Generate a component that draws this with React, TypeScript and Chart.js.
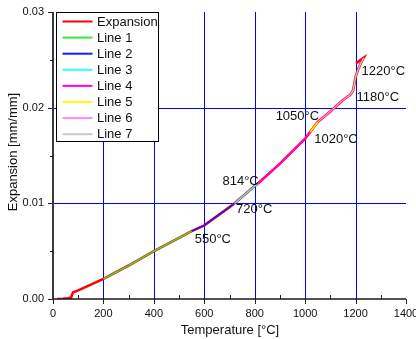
import React, { useEffect, useRef } from "react";
import { Chart, registerables } from "chart.js";

Chart.register(...registerables);

// ---- data ----
const expansionTemps = [16, 40, 60, 72, 76, 80, 100, 150, 200, 300, 400, 500, 550, 600, 700, 720, 800, 814, 900, 1000, 1020, 1050, 1100, 1150, 1180, 1190, 1200, 1210, 1220, 1232, 1202];
const expansionValues = [0, 0.00002, 0.00008, 0.00015, 0.0005, 0.0007, 0.0009, 0.0015, 0.0021, 0.0035, 0.005, 0.0064, 0.0071, 0.0077, 0.0096, 0.01, 0.0118, 0.0121, 0.01415, 0.01677, 0.01746, 0.0185, 0.0196, 0.0208, 0.02136, 0.0218, 0.0232, 0.024, 0.0246, 0.0252, 0.02465];

const line1Temps = [200, 300, 400, 500, 550];
const line1Values = [0.0021, 0.0035, 0.005, 0.0064, 0.0071];
const line2Temps = [550, 600, 700, 720];
const line2Values = [0.0071, 0.0077, 0.0096, 0.01];
const line3Temps = [720, 800, 814];
const line3Values = [0.01, 0.0118, 0.0121];
const line4Temps = [814, 900, 1000, 1020];
const line4Values = [0.0121, 0.01415, 0.01677, 0.01746];
const line5Temps = [1020, 1050];
const line5Values = [0.01746, 0.0185];
const line6Temps = [1050, 1100, 1150, 1180];
const line6Values = [0.0185, 0.0196, 0.0208, 0.02136];
const line7Temps = [1180, 1190, 1200, 1210, 1220, 1232];
const line7Values = [0.02136, 0.0218, 0.0232, 0.024, 0.0246, 0.0252];

const seriesLabels = ["Expansion", "Line 1", "Line 2", "Line 3", "Line 4", "Line 5", "Line 6", "Line 7"];
const seriesColors = ["#ff0000", "#33ee33", "#1a1aff", "#33ffff", "#ff00ff", "#ffff00", "#ff88ff", "#c8c8c8"];

const annotationTemps = [562, 726, 672, 883, 1036, 1204, 1224];
const annotationValues = [0.00624, 0.00938, 0.01233, 0.01913, 0.01669, 0.02105, 0.02383];
const annotationLabels = ["550°C", "720°C", "814°C", "1050°C", "1020°C", "1180°C", "1220°C"];

const xMin = 0, xMax = 1400, xStep = 100, xMajor = 200;
const yMin = 0, yMax = 0.03, yStep = 0.005, yMajor = 0.01;
const xTitle = "Temperature [°C]";
const yTitle = "Expansion [mm/mm]";

const FONT = "'Liberation Sans', Arial, sans-serif";

function pts(t: number[], v: number[]) {
  return t.map((x, i) => ({ x, y: v[i] }));
}

function isMajor(v: number, step: number) {
  const r = v / step;
  return Math.abs(r - Math.round(r)) < 1e-6;
}

const decorPlugin = {
  id: "decor",
  beforeDatasetsDraw(chart: any) {
    const ctx = chart.ctx as CanvasRenderingContext2D;
    const ca = chart.chartArea;
    const xs = chart.scales.x;
    const ys = chart.scales.y;
    ctx.save();
    ctx.strokeStyle = "#0000ff";
    ctx.lineWidth = 1;
    ctx.beginPath();
    for (const t of xs.ticks) {
      if (!isMajor(t.value, xMajor) || t.value <= xMin || t.value >= xMax) continue;
      const px = Math.round(xs.getPixelForValue(t.value)) + 0.5;
      ctx.moveTo(px, ca.top);
      ctx.lineTo(px, ca.bottom);
    }
    for (const t of ys.ticks) {
      if (!isMajor(t.value, yMajor) || t.value <= yMin + 1e-9 || t.value >= yMax - 1e-9) continue;
      const py = Math.round(ys.getPixelForValue(t.value)) + 0.5;
      ctx.moveTo(ca.left, py);
      ctx.lineTo(ca.right, py);
    }
    ctx.stroke();
    ctx.restore();
  },
  afterDatasetsDraw(chart: any) {
    const ctx = chart.ctx as CanvasRenderingContext2D;
    const ca = chart.chartArea;
    const xs = chart.scales.x;
    const ys = chart.scales.y;
    ctx.save();
    // axis lines
    ctx.strokeStyle = "#3a3a3a";
    ctx.lineWidth = 2;
    ctx.beginPath();
    ctx.moveTo(ca.left, ca.top);
    ctx.lineTo(ca.left, ca.bottom);
    ctx.stroke();
    ctx.strokeStyle = "#1a1a1a";
    ctx.lineWidth = 1.5;
    ctx.beginPath();
    ctx.moveTo(ca.left, ca.bottom);
    ctx.lineTo(ca.right, ca.bottom);
    ctx.stroke();
    // tick marks
    ctx.lineWidth = 1;
    ctx.strokeStyle = "#222";
    ctx.beginPath();
    for (const t of xs.ticks) {
      const px = Math.round(xs.getPixelForValue(t.value)) + 0.5;
      if (isMajor(t.value, xMajor)) {
        ctx.moveTo(px, ca.bottom);
        ctx.lineTo(px, ca.bottom + 5);
      } else {
        ctx.moveTo(px, ca.bottom);
        ctx.lineTo(px, ca.bottom - 4);
      }
    }
    for (const t of ys.ticks) {
      const py = Math.round(ys.getPixelForValue(t.value)) + 0.5;
      const len = isMajor(t.value, yMajor) ? 5 : 3;
      ctx.moveTo(ca.left - len, py);
      ctx.lineTo(ca.left, py);
    }
    ctx.stroke();

    // annotations
    ctx.fillStyle = "#111";
    ctx.font = `13px ${FONT}`;
    ctx.textAlign = "left";
    ctx.textBaseline = "middle";
    annotationLabels.forEach((lab, i) => {
      ctx.fillText(lab, xs.getPixelForValue(annotationTemps[i]), ys.getPixelForValue(annotationValues[i]));
    });

    // axis titles
    ctx.fillStyle = "#111";
    ctx.textAlign = "center";
    ctx.textBaseline = "middle";
    ctx.font = `13px ${FONT}`;
    ctx.fillText(xTitle, 230, 330);
    ctx.save();
    ctx.translate(13, 152);
    ctx.rotate(-Math.PI / 2);
    ctx.fillText(yTitle, 0, 0);
    ctx.restore();

    // legend
    const lx = ca.left + 3.5, ly = ca.top + 0.5, lw = 102, lh = 129;
    ctx.fillStyle = "#fff";
    ctx.fillRect(lx, ly, lw, lh);
    ctx.strokeStyle = "#000";
    ctx.lineWidth = 1;
    ctx.strokeRect(lx, ly, lw, lh);
    ctx.font = `13px ${FONT}`;
    ctx.textAlign = "left";
    ctx.textBaseline = "middle";
    chart.data.datasets.forEach((ds: any, i: number) => {
      const cy = ly + 9 + i * 16.1;
      ctx.strokeStyle = ds.borderColor;
      ctx.lineWidth = 2;
      ctx.beginPath();
      ctx.moveTo(lx + 6, cy);
      ctx.lineTo(lx + 36, cy);
      ctx.stroke();
      ctx.fillStyle = "#111";
      ctx.fillText(ds.label, lx + 40.5, cy + 0.5);
    });
    ctx.restore();
  },
};

export default function App() {
  const ref = useRef<HTMLCanvasElement | null>(null);
  useEffect(() => {
    if (!ref.current) return;
    const seriesPoints = [
      pts(expansionTemps, expansionValues),
      pts(line1Temps, line1Values),
      pts(line2Temps, line2Values),
      pts(line3Temps, line3Values),
      pts(line4Temps, line4Values),
      pts(line5Temps, line5Values),
      pts(line6Temps, line6Values),
      pts(line7Temps, line7Values),
    ];
    const datasets = seriesPoints.map((d, i) => ({
      label: seriesLabels[i],
      data: d,
      borderColor: seriesColors[i],
      backgroundColor: seriesColors[i],
      borderWidth: i === 0 ? 2.6 : 1.4,
      pointRadius: 0,
      fill: false,
      tension: 0,
      order: 8 - i,
    }));
    const chart = new Chart(ref.current, {
      type: "line",
      data: { datasets },
      options: {
        animation: false,
        responsive: false,
        devicePixelRatio: 1,
        layout: { padding: { left: 0, top: 12, right: 10, bottom: 0 } },
        plugins: { legend: { display: false }, tooltip: { enabled: false } },
        scales: {
          x: {
            type: "linear",
            min: xMin,
            max: xMax,
            border: { display: false },
            grid: { display: false, drawTicks: false },
            ticks: {
              stepSize: xStep,
              autoSkip: false,
              maxRotation: 0,
              padding: 8,
              color: "#111",
              font: { family: FONT, size: 11 },
              callback: (v: any) => (isMajor(Number(v), xMajor) ? String(v) : ""),
            },
            afterFit: (s: any) => {
              s.height = 40;
              s.paddingLeft = 0;
              s.paddingRight = 0;
            },
          },
          y: {
            type: "linear",
            min: yMin,
            max: yMax,
            border: { display: false },
            grid: { display: false, drawTicks: false },
            ticks: {
              stepSize: yStep,
              autoSkip: false,
              padding: 9,
              color: "#111",
              font: { family: FONT, size: 11 },
              callback: (v: any) => (isMajor(Number(v), yMajor) ? Number(v).toFixed(2) : ""),
            },
            afterFit: (s: any) => {
              s.width = 53;
              s.paddingTop = 0;
              s.paddingBottom = 0;
            },
          },
        },
      },
      plugins: [decorPlugin],
    } as any);
    return () => chart.destroy();
  }, []);
  return (
    <div style={{ position: "absolute", left: 0, top: 0, width: 416, height: 339, background: "#fff" }}>
      <canvas ref={ref} width={416} height={339} style={{ display: "block" }} />
    </div>
  );
}
